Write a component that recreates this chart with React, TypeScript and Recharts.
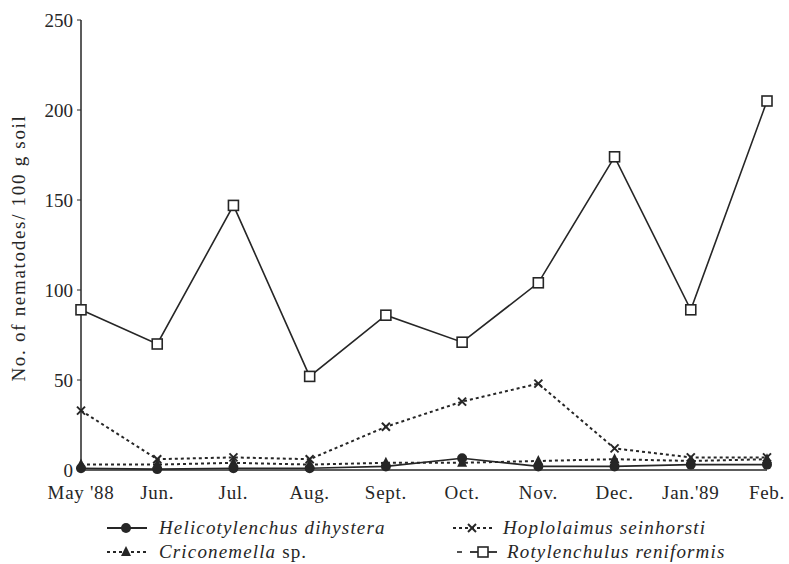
import React from 'react';
import { LineChart, Line, XAxis, YAxis } from 'recharts';

const months = ["May '88", 'Jun.', 'Jul.', 'Aug.', 'Sept.', 'Oct.', 'Nov.', 'Dec.', "Jan.'89", 'Feb.'];
const helicotylenchus = [1, 0.5, 1, 1, 2, 6.5, 2, 2, 3, 3];
const criconemella = [3, 3, 4, 3, 4, 4, 5, 6, 5, 6];
const hoplolaimus = [33, 6, 7, 6, 24, 38, 48, 12, 7, 7];
const rotylenchulus = [89, 70, 147, 52, 86, 71, 104, 174, 89, 205];
const yTicks = [0, 50, 100, 150, 200, 250];

const data = months.map((m, i) => ({
  month: m,
  heli: helicotylenchus[i],
  cric: criconemella[i],
  hopl: hoplolaimus[i],
  roty: rotylenchulus[i],
}));

const INK = '#262626';
const FONT = '"Liberation Serif", "DejaVu Serif", serif';

const CircleDot = (p: any) => (
  <circle key={p.key} cx={p.cx} cy={p.cy} r={5} fill={INK} />
);
const TriDot = (p: any) => (
  <polygon key={p.key}
    points={`${p.cx},${p.cy - 6} ${p.cx - 5},${p.cy + 4} ${p.cx + 5},${p.cy + 4}`}
    fill={INK} />
);
const XDot = (p: any) => (
  <g key={p.key} stroke={INK} strokeWidth={2}>
    <line x1={p.cx - 4} y1={p.cy - 4} x2={p.cx + 4} y2={p.cy + 4} />
    <line x1={p.cx - 4} y1={p.cy + 4} x2={p.cx + 4} y2={p.cy - 4} />
  </g>
);
const SquareDot = (p: any) => (
  <rect key={p.key} x={p.cx - 5} y={p.cy - 5} width={10} height={10}
    fill="#fff" stroke={INK} strokeWidth={1.6} />
);

const YLabel = (props: any) => {
  const vb = props.viewBox || { x: 0, y: 20, width: 81, height: 450 };
  const cx = vb.x + 18;
  const cy = vb.y + vb.height / 2 + 3;
  return (
    <text x={cx} y={cy} transform={`rotate(-90 ${cx} ${cy})`} textAnchor="middle"
      dominantBaseline="central" fontFamily={FONT} fontSize={19} fill={INK} letterSpacing={1.7}>
      No. of nematodes/ 100 g soil
    </text>
  );
};

const legendText: React.CSSProperties = {
  fontFamily: FONT,
  fontSize: 19,
  lineHeight: '20px',
  fontStyle: 'italic',
  color: INK,
  letterSpacing: 1.15,
  whiteSpace: 'nowrap',
};

const Sample = ({ kind }: { kind: string }) => {
  const dashed = kind === 'cric' || kind === 'hopl';
  if (kind === 'roty') {
    return (
      <svg width={44} height={14} style={{ display: 'block' }}>
        <line x1={2} y1={7} x2={7} y2={7} stroke={INK} strokeWidth={1.6} />
        <line x1={15} y1={7} x2={42} y2={7} stroke={INK} strokeWidth={1.8} />
        <rect x={23} y={2} width={10} height={10} fill="#fff" stroke={INK} strokeWidth={1.6} />
      </svg>
    );
  }
  return (
    <svg width={44} height={14} style={{ display: 'block' }}>
      <line x1={2} y1={7} x2={42} y2={7} stroke={INK} strokeWidth={2}
        strokeDasharray={dashed ? '3 3' : undefined} />
      {kind === 'heli' && <circle cx={21} cy={7} r={5} fill={INK} />}
      {kind === 'cric' && <polygon points="21,1 16,11 26,11" fill={INK} />}
      {kind === 'hopl' && (
        <g stroke={INK} strokeWidth={2}>
          <line x1={17} y1={3} x2={25} y2={11} />
          <line x1={17} y1={11} x2={25} y2={3} />
        </g>
      )}
    </svg>
  );
};

const LegendItem = ({ left, top, kind, gap, children }: any) => (
  <div style={{ position: 'absolute', left, top, height: 20, display: 'flex', alignItems: 'center', gap }}>
    <Sample kind={kind} />
    <span style={legendText}>{children}</span>
  </div>
);

export default function App() {
  return (
    <div style={{ position: 'absolute', left: 0, top: 0, width: 789, height: 564, background: '#fff', overflow: 'hidden' }}>
      <LineChart width={789} height={564} data={data}
        margin={{ top: 20, right: 22, left: 0, bottom: 64 }}>
        <XAxis dataKey="month" tickLine={false} tickMargin={10} height={30}
          axisLine={{ stroke: INK, strokeWidth: 1.5 }} interval={0}
          tick={{ fontFamily: FONT, fontSize: 19, fill: INK, letterSpacing: 0.7 }} />
        <YAxis domain={[0, 250]} ticks={yTicks} width={81} tickSize={4} tickMargin={4}
          axisLine={{ stroke: INK, strokeWidth: 1.5 }} tickLine={{ stroke: INK }}
          tick={{ fontFamily: FONT, fontSize: 19, fill: INK }}
          label={{ content: YLabel }} />
        <Line dataKey="hopl" stroke={INK} strokeWidth={2} strokeDasharray="3 3"
          dot={XDot} isAnimationActive={false} />
        <Line dataKey="cric" stroke={INK} strokeWidth={2} strokeDasharray="3 3"
          dot={TriDot} isAnimationActive={false} />
        <Line dataKey="heli" stroke={INK} strokeWidth={1.6}
          dot={CircleDot} isAnimationActive={false} />
        <Line dataKey="roty" stroke={INK} strokeWidth={1.6}
          dot={SquareDot} isAnimationActive={false} />
      </LineChart>
      <LegendItem left={105} top={518} gap={10} kind="heli">Helicotylenchus dihystera</LegendItem>
      <LegendItem left={105} top={542} gap={10} kind="cric">Criconemella <span style={{ fontStyle: 'normal' }}>sp.</span></LegendItem>
      <LegendItem left={451} top={518} gap={8} kind="hopl">Hoplolaimus seinhorsti</LegendItem>
      <LegendItem left={455} top={542} gap={8} kind="roty">Rotylenchulus reniformis</LegendItem>
    </div>
  );
}
